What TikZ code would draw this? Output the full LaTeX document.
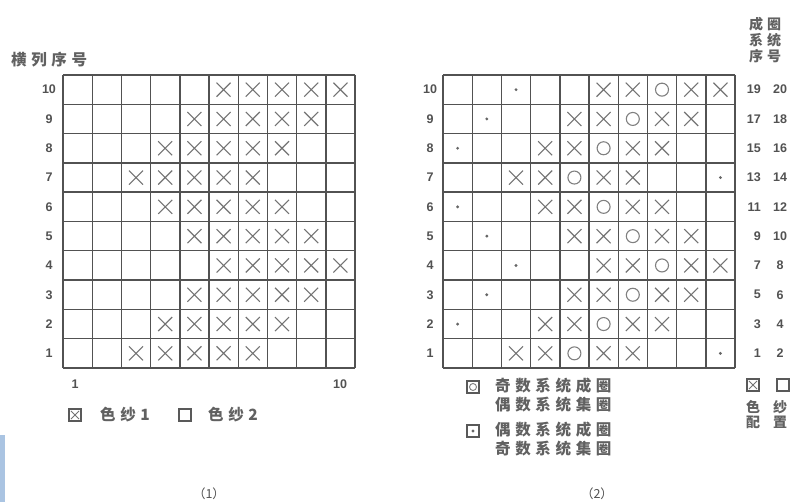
\documentclass[tikz,border=0pt]{standalone}
\usepackage{fontspec}
\setmainfont{Liberation Sans}
\newfontfamily\cjk{Noto Sans CJK SC}
\newfontfamily\cjksp[LetterSpace=30]{Noto Sans CJK SC}
\definecolor{barblue}{RGB}{170,196,226}
\begin{document}
\begin{tikzpicture}[x=1pt,y=-1pt,
  gridline/.style={draw=black!68, line width=1.4pt},
  xm/.style={draw=black!55, line width=1.1pt},
  om/.style={draw=black!50, line width=1.1pt},
  dotm/.style={fill=black!60, draw=none},
  num/.style={text=black!68, font=\bfseries\fontsize{12.5}{13}\selectfont, inner sep=0pt},
  ch/.style={text=black!62, font=\cjksp\bfseries\fontsize{15.5}{16}\selectfont, inner sep=0pt},
  chs/.style={text=black!62, font=\cjk\bfseries\fontsize{14}{15}\selectfont, inner sep=0pt},
  icon/.style={draw=black!65, line width=1.1pt, minimum size=12pt, inner sep=0pt}
]
\useasboundingbox (0,0) rectangle (792,502);
\fill[white] (0,0) rectangle (792,502);
\fill[barblue] (0,435) rectangle (5,502);
% ---------- grids ----------
\def\xa{63}\def\xb{443}\def\ya{75}\def\cw{29.2}\def\chh{29.3}
\foreach \i in {0,...,10}{
  \draw[gridline] ({\xa+\i*\cw},\ya) -- ++(0,{10*\chh});
  \draw[gridline] (\xa,{\ya+\i*\chh}) -- ++({10*\cw},0);
  \draw[gridline] ({\xb+\i*\cw},\ya) -- ++(0,{10*\chh});
  \draw[gridline] (\xb,{\ya+\i*\chh}) -- ++({10*\cw},0);
}
% row labels
\foreach \r in {1,...,10}{
  \node[num] (la\r) at (49,{\ya+(10.5-\r)*\chh}) {\r};
  \node[num] (lb\r) at (430,{\ya+(10.5-\r)*\chh}) {\r};
  \pgfmathtruncatemacro\od{2*\r-1}
  \pgfmathtruncatemacro\ev{2*\r}
  \node[num, anchor=east] (so\r) at (761,{\ya+(10.5-\r)*\chh}) {\od};
  \node[num] (se\r) at (780,{\ya+(10.5-\r)*\chh}) {\ev};
}
% left grid X marks
\foreach \r/\s in {10/6,9/5,8/4,7/3,6/4,5/5,4/6,3/5,2/4,1/3}{
  \foreach \k in {0,...,4}{
    \pgfmathsetmacro\cx{\xa+(\s+\k-0.5)*\cw}
    \pgfmathsetmacro\cy{\ya+(10.5-\r)*\chh}
    \draw[xm] (\cx-7,\cy-7) -- (\cx+7,\cy+7) (\cx-7,\cy+7) -- (\cx+7,\cy-7);
  }
}
% right grid marks
\foreach \r/\s/\d in {10/6/3,9/5/2,8/4/1,7/3/10,6/4/1,5/5/2,4/6/3,3/5/2,2/4/1,1/3/10}{
  \pgfmathsetmacro\cy{\ya+(10.5-\r)*\chh}
  \foreach \k in {0,1,3,4}{
    \pgfmathsetmacro\cx{\xb+(\s+\k-0.5)*\cw}
    \draw[xm] (\cx-7,\cy-7) -- (\cx+7,\cy+7) (\cx-7,\cy+7) -- (\cx+7,\cy-7);
  }
  \pgfmathsetmacro\ox{\xb+(\s+1.5)*\cw}
  \draw[om] (\ox,\cy) circle (6.5);
  \pgfmathsetmacro\dx{\xb+(\d-0.5)*\cw}
  \fill[dotm] (\dx,\cy) circle (1.6);
}
% header texts
\node[ch, anchor=west] (hdr) at (11,60) {横列序号};
\node[chs] (h1a) at (756,24) {成};\node[chs] (h1b) at (774,24) {圈};
\node[chs] (h2a) at (756,40) {系};\node[chs] (h2b) at (774,40) {统};
\node[chs] (h3a) at (756,56) {序};\node[chs] (h3b) at (774,56) {号};
% bottom of grid 1
\node[num] (b1) at (75,384) {1};
\node[num] (b10) at (340,384) {10};
\node[icon] (i1) at (75,415) {};
\draw[xm, line width=0.9pt] ([shift={(2.5,2.5)}]i1.north west) -- ([shift={(-2.5,-2.5)}]i1.south east)
  ([shift={(2.5,-2.5)}]i1.south west) -- ([shift={(-2.5,2.5)}]i1.north east);
\node[ch, anchor=west] (t1) at (100,415) {色纱1};
\node[icon] (i2) at (185,415) {};
\node[ch, anchor=west] (t2) at (208,415) {色纱2};
\node[text=black!68, font=\cjk\fontsize{12.5}{13}\selectfont, inner sep=0pt] (cap1) at (209,494) {（1）};
% legend grid 2
\node[icon] (i3) at (473,387) {};
\draw[om, line width=0.9pt] (i3.center) circle (3.5);
\node[ch, anchor=west] (t3a) at (495,386) {奇数系统成圈};
\node[ch, anchor=west] (t3b) at (495,405) {偶数系统集圈};
\node[icon] (i4) at (473,431) {};
\fill[dotm] (i4.center) circle (1.6);
\node[ch, anchor=west] (t4a) at (495,430) {偶数系统成圈};
\node[ch, anchor=west] (t4b) at (495,449) {奇数系统集圈};
\node[text=black!68, font=\cjk\fontsize{12.5}{13}\selectfont, inner sep=0pt] (cap2) at (597,494) {（2）};
% right bottom
\node[icon] (i5) at (753,385) {};
\draw[xm, line width=0.9pt] ([shift={(2.5,2.5)}]i5.north west) -- ([shift={(-2.5,-2.5)}]i5.south east)
  ([shift={(2.5,-2.5)}]i5.south west) -- ([shift={(-2.5,2.5)}]i5.north east);
\node[icon] (i6) at (783,385) {};
\node[chs] (s1) at (753,407) {色};\node[chs] (s2) at (780,407) {纱};
\node[chs] (s3) at (753,422) {配};\node[chs] (s4) at (780,422) {置};
\end{tikzpicture}
\end{document}
